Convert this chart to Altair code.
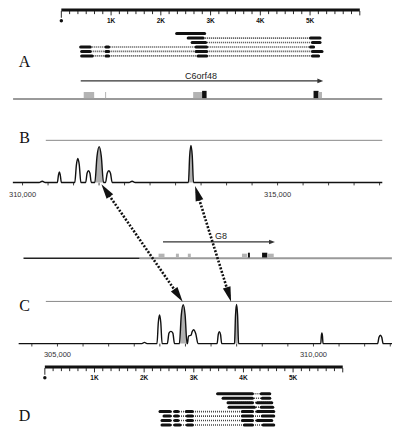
import math
import altair as alt
import pandas as pd

# ---------------- data ----------------
RULER_LEN_KB = 6.0
RULER_LABEL_KB = [1, 2, 3, 4, 5]
RULER_LABELS = ["1K", "2K", "3K", "4K", "5K"]
RULER_TICKS_PER_KB = 6

# panel A transcripts (exon blocks, kb on ruler A)
A_READS = [
    [(2.30, 2.90)],
    [(2.53, 2.87), (4.99, 5.22)],
    [(2.61, 2.92), (5.03, 5.22)],
    [(0.37, 0.60), (0.88, 0.97), (2.69, 2.94), (4.99, 5.09)],
    [(0.39, 0.60), (0.88, 0.97), (2.69, 2.94), (5.03, 5.26)],
    [(0.39, 0.64), (0.88, 0.97), (2.73, 2.94), (5.03, 5.19)],
]
# panel D transcripts (kb on ruler D)
D_READS = [
    [(3.46, 4.20), (4.34, 4.55)],
    [(3.57, 4.20), (4.36, 4.55)],
    [(3.67, 4.20), (4.26, 4.59)],
    [(3.69, 4.24), (4.34, 4.61)],
    [(2.30, 2.54), (2.60, 2.70), (2.83, 2.99), (3.96, 4.20), (4.26, 4.63)],
    [(2.38, 2.54), (2.60, 2.70), (2.85, 2.99), (3.96, 4.20), (4.36, 4.63)],
    [(2.34, 2.54), (2.60, 2.70), (2.85, 2.99), (3.96, 4.20), (4.26, 4.59)],
    [(2.34, 2.54), (2.60, 2.74), (2.85, 2.99), (4.00, 4.20), (4.38, 4.63)],
]

# gene models
A_GENE_NAME = "C6orf48"
A_GENE_SPAN = (0.39, 5.26)
A_LINE_SPAN = (-0.97, 6.45)
A_BOXES = [(0.45, 0.66, "g"), (0.88, 0.90, "g"), (2.65, 2.84, "g"),
           (2.83, 2.92, "k"), (5.07, 5.17, "k"), (5.17, 5.24, "g")]
G8_NAME = "G8"
G8_SPAN = (2.38, 4.63)
G8_LINE_DARK = (-0.43, 1.91)
G8_LINE_GRAY = (1.91, 6.99)
G8_BOXES = [(2.29, 2.41, "g"), (2.64, 2.70, "g"), (2.88, 2.94, "g"),
            (3.97, 4.07, "g"), (4.09, 4.13, "k"), (4.375, 4.48, "k"),
            (4.48, 4.61, "g")]

# panel B trace (genomic position, % of full scale)
B_POS = [309810,
         310326, 310386, 310446,
         310682, 310705, 310722, 310739, 310762,
         311024, 311056, 311084, 311112, 311144,
         311238, 311265, 311293, 311321, 311348,
         311417, 311460, 311502, 311544, 311587,
         311627, 311660, 311692, 311724, 311757,
         312088, 312148, 312208,
         313252, 313277, 313302, 313327, 313352,
         317053]
B_VAL = [0,
         0, 3, 0,
         0, 18, 25, 18, 0,
         0, 42, 57, 42, 0,
         0, 22, 28, 22, 0,
         0, 62, 85, 62, 0,
         0, 22, 28, 22, 0,
         0, 3, 0,
         0, 64, 88, 64, 0,
         0]
B_HIGHLIGHT = [311502, 313302]
B_TOP = (310456, 317053)
B_TICKS = list(range(310000, 317001, 500))
B_LABELS = [310000, 315000]

# panel C trace
C_POS = [304242,
         306649, 306699, 306749,
         306944, 306970, 306994, 307018, 307044,
         307146, 307178, 307216, 307254, 307286,
         307381, 307419, 307456, 307493, 307531,
         307538, 307560, 307610, 307630, 307657, 307700, 307745,
         308118, 308140, 308163, 308186, 308208,
         308458, 308478, 308498, 308518, 308538,
         310143, 310154, 310165, 310176, 310187,
         311252, 311280, 311307, 311334, 311362,
         311534]
C_VAL = [0,
         0, 3, 0,
         0, 50, 68, 50, 0,
         0, 25, 29, 25, 0,
         0, 68, 92, 68, 0,
         0, 18, 20, 28, 33, 24, 0,
         0, 21, 28, 21, 0,
         0, 68, 93, 68, 0,
         0, 18, 25, 18, 0,
         0, 15, 20, 15, 0,
         0]
C_HIGHLIGHT = [307456, 308498]
C_TOP = (304773, 311534)
C_TICKS = list(range(304500, 311501, 500))
C_LABELS = [305000, 310000]

# dotted double arrows: (B position, B value) -> (C position, C value)
ARROWS = [((311549, -4.5), (307443, 100)), ((313384, -9.0), (308390, 100))]

LETTERS = ["A", "B", "C", "D"]

# ---------------- layout calibration (figure units) ----------------
def ax_A(kb): return 57 + 51.3 * kb
def ax_D(kb): return 40 + 51.2 * kb
def ax_B(p): return 17 + (p - 310000) * 0.0526
def ax_C(p): return 53 + (p - 305000) * 0.0528
def ay_B(v): return 184 - 0.44 * v
def ay_C(v): return 352 - 0.44 * v

RULER_A_Y, RULER_D_Y = 4.2, 376.5
READS_A_Y0, READS_D_Y0, READ_DY = 28.7, 404.3, 4.65
GENE_A_Y, GENE_A_ARROW_Y = 97, 78
GENE_G8_Y, GENE_G8_ARROW_Y = 263, 246
LETTER_POS = [(19, 58), (19, 137.5), (19, 312.5), (19, 428)]

BLACK, GRAY, LGRAY = "#111111", "#9a9a9a", "#b4b4b4"

segs, thin, exons, boxes = [], [], [], []
texts_letters, texts_gene, texts_coord, texts_ruler, dots = [], [], [], [], []
heads = []

def seg(x1, x2, y1, y2, color, w):
    segs.append(dict(x=x1, x2=x2, y=y1, y2=y2, color=color, w=w))

# rulers
for fx, yb in [(ax_A, RULER_A_Y), (ax_D, RULER_D_Y)]:
    seg(fx(0), fx(RULER_LEN_KB), yb, yb, BLACK, 3)
    n = int(RULER_LEN_KB * RULER_TICKS_PER_KB)
    for i in range(n + 1):
        k = i / RULER_TICKS_PER_KB
        major = i % RULER_TICKS_PER_KB == 0
        ln = 7 if i == 0 else (4.5 if major else 3.2)
        seg(fx(k), fx(k), yb + 1, yb + 1 + ln, BLACK, 0.9)
    for k, lab in zip(RULER_LABEL_KB, RULER_LABELS):
        texts_ruler.append(dict(x=fx(k), y=yb + 11, t=lab))
    dots.append(dict(x=fx(0), y=yb + 11))

# reads
for fx, y0, reads in [(ax_A, READS_A_Y0, A_READS), (ax_D, READS_D_Y0, D_READS)]:
    for r, ex in enumerate(reads):
        y = y0 + r * READ_DY
        thin.append(dict(x=fx(ex[0][0]), x2=fx(ex[-1][1]), y=y, y2=y))
        for a, b in ex:
            exons.append(dict(x=fx(a) + 1, x2=fx(b) - 1, y=y, y2=y))

# gene A
seg(ax_A(A_LINE_SPAN[0]), ax_A(A_LINE_SPAN[1]), GENE_A_Y, GENE_A_Y, GRAY, 2)
for a, b, c in A_BOXES:
    top = GENE_A_Y - (8.6 if c == "k" else 7.4)
    boxes.append(dict(x=ax_A(a), x2=ax_A(b), y=top, y2=GENE_A_Y - 1,
                      color=BLACK if c == "k" else LGRAY))
seg(ax_A(A_GENE_SPAN[0]), ax_A(A_GENE_SPAN[1]) - 3, GENE_A_ARROW_Y, GENE_A_ARROW_Y, "#333333", 1.3)
heads.append(dict(x=ax_A(A_GENE_SPAN[1]) - 2.8, y=GENE_A_ARROW_Y, ang=90, s=34, kind="gene"))
texts_gene.append(dict(x=ax_A(sum(A_GENE_SPAN) / 2) - 1, y=GENE_A_ARROW_Y - 5.5, t=A_GENE_NAME))

# gene G8
seg(ax_D(G8_LINE_DARK[0]), ax_D(G8_LINE_DARK[1]), GENE_G8_Y, GENE_G8_Y, "#222222", 1.5)
seg(ax_D(G8_LINE_GRAY[0]), ax_D(G8_LINE_GRAY[1]), GENE_G8_Y, GENE_G8_Y, GRAY, 2)
for a, b, c in G8_BOXES:
    top = GENE_G8_Y - (5.8 if c == "k" else 4.8)
    boxes.append(dict(x=ax_D(a), x2=ax_D(b), y=top, y2=GENE_G8_Y - 0.8,
                      color=BLACK if c == "k" else LGRAY))
seg(ax_D(G8_SPAN[0]), ax_D(G8_SPAN[1]) - 3, GENE_G8_ARROW_Y, GENE_G8_ARROW_Y, "#333333", 1.3)
heads.append(dict(x=ax_D(G8_SPAN[1]) - 2.8, y=GENE_G8_ARROW_Y, ang=90, s=34, kind="gene"))
texts_gene.append(dict(x=ax_D(3.55), y=GENE_G8_ARROW_Y - 6, t=G8_NAME))

# trace panels
trace, fills = [], []
for name, P, V, fx, fy, top, ticks, labs, hl, laby in [
        ("B", B_POS, B_VAL, ax_B, ay_B, B_TOP, B_TICKS, B_LABELS, B_HIGHLIGHT, 196.5),
        ("C", C_POS, C_VAL, ax_C, ay_C, C_TOP, C_TICKS, C_LABELS, C_HIGHLIGHT, 363.5)]:
    seg(fx(top[0]), fx(top[1]), fy(100), fy(100), "#8a8a8a", 1)
    for p in ticks:
        seg(fx(p), fx(p), fy(0), fy(0) + 3, BLACK, 0.8)
    for p in labs:
        texts_coord.append(dict(x=fx(p), y=laby, t=f"{p:,}"))
    for p, v in zip(P, V):
        trace.append(dict(panel=name, x=fx(p), y=fy(v)))
    for c in hl:
        i = P.index(c)
        for j in range(i - 3, i + 4):
            fills.append(dict(pk=f"{name}{c}", x=fx(P[j]), y=fy(V[j]), y0=fy(0)))

# dotted arrows
arrows = []
for (pb, vb), (pc, vc) in ARROWS:
    x1, y1 = ax_B(pb), ay_B(vb)
    x2, y2 = ax_C(pc), ay_C(vc)
    L = math.hypot(x2 - x1, y2 - y1)
    ux, uy = (x2 - x1) / L, (y2 - y1) / L
    hl_ = 15
    arrows.append(dict(x=x1 + ux * 6, x2=x2 - ux * 6, y=y1 + uy * 6, y2=y2 - uy * 6))
    ang_down = math.degrees(math.atan2(ux, -uy)) % 360
    ang_up = (ang_down + 180) % 360
    heads.append(dict(x=x2 - ux * hl_ / 2, y=y2 - uy * hl_ / 2, ang=ang_down, s=hl_ ** 2, kind="big"))
    heads.append(dict(x=x1 + ux * hl_ / 2, y=y1 + uy * hl_ / 2, ang=ang_up, s=hl_ ** 2, kind="big"))

for (x, y), t in zip(LETTER_POS, LETTERS):
    texts_letters.append(dict(x=x, y=y, t=t))

# ---------------- chart ----------------
W, H = 384, 420
XS = alt.Scale(domain=[2, 398], nice=False, zero=False)
YS = alt.Scale(domain=[2, 440], nice=False, zero=False, reverse=True)

def enc_xy(**kw):
    d = dict(x=alt.X("x:Q", scale=XS, axis=None), y=alt.Y("y:Q", scale=YS, axis=None))
    d.update(kw)
    return d

rules_l = alt.Chart(pd.DataFrame(segs)).mark_rule().encode(
    **enc_xy(x2="x2:Q", y2="y2:Q",
             color=alt.Color("color:N", scale=None),
             strokeWidth=alt.StrokeWidth("w:Q", scale=None)))
rects_l = alt.Chart(pd.DataFrame(boxes)).mark_rect().encode(
    **enc_xy(x2="x2:Q", y2="y2:Q", color=alt.Color("color:N", scale=None)))
thin_l = alt.Chart(pd.DataFrame(thin)).mark_rule(
    color="#444444", strokeWidth=1.7, strokeDash=[1, 1]).encode(**enc_xy(x2="x2:Q", y2="y2:Q"))
exon_l = alt.Chart(pd.DataFrame(exons)).mark_rule(
    color=BLACK, strokeWidth=3, strokeCap="round").encode(**enc_xy(x2="x2:Q", y2="y2:Q"))
fill_l = alt.Chart(pd.DataFrame(fills)).mark_area(
    interpolate="monotone", color="#b0b0b0").encode(**enc_xy(y2="y0:Q", detail="pk:N"))
trace_l = alt.Chart(pd.DataFrame(trace)).mark_line(
    interpolate="monotone", color=BLACK, strokeWidth=1.4).encode(**enc_xy(detail="panel:N"))
arrow_l = alt.Chart(pd.DataFrame(arrows)).mark_rule(
    color=BLACK, strokeWidth=2.6, strokeDash=[2, 1.6]).encode(**enc_xy(x2="x2:Q", y2="y2:Q"))

hd = pd.DataFrame(heads)
big_l = alt.Chart(hd[hd.kind == "big"]).mark_point(
    filled=True, opacity=1, color=BLACK, strokeWidth=0,
    shape="M0,-1L0.53,1L-0.53,1Z").encode(
    **enc_xy(angle=alt.Angle("ang:Q", scale=None), size=alt.Size("s:Q", scale=None)))
gene_h = alt.Chart(hd[hd.kind == "gene"]).mark_point(
    filled=True, opacity=1, color="#333333", strokeWidth=0,
    shape="M0,-1L0.8,1L-0.8,1Z").encode(
    **enc_xy(angle=alt.Angle("ang:Q", scale=None), size=alt.Size("s:Q", scale=None)))

dots_l = alt.Chart(pd.DataFrame(dots)).mark_point(
    filled=True, shape="circle", size=12, color=BLACK, opacity=1).encode(**enc_xy())

def text_layer(rows, **style):
    return alt.Chart(pd.DataFrame(rows)).mark_text(
        align="center", baseline="middle", **style).encode(**enc_xy(text="t:N"))

letters_l = text_layer(texts_letters, font="Liberation Serif", fontSize=16, color=BLACK)
gene_t = text_layer(texts_gene, font="Liberation Sans", fontSize=9, color="#222222")
coord_t = text_layer(texts_coord, font="Liberation Sans", fontSize=7.5, color="#333333")
ruler_t = text_layer(texts_ruler, font="Liberation Sans", fontSize=6.5, fontWeight="bold", color=BLACK)

chart = alt.layer(
    rules_l, rects_l, thin_l, exon_l, fill_l, trace_l, arrow_l, big_l, gene_h,
    dots_l, letters_l, gene_t, coord_t, ruler_t
).properties(
    width=W, height=H,
    autosize=alt.AutoSizeParams(type="none"),
    padding=0,
    background="white",
).configure_view(stroke=None)

chart.save("out.html", embed_options={"renderer": "svg", "actions": False})
